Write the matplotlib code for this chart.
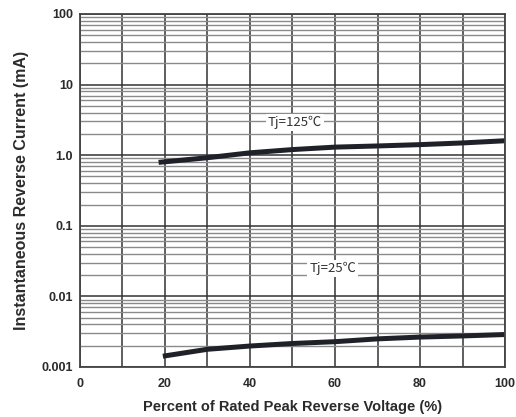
import numpy as np
import matplotlib
matplotlib.use("Agg")
import matplotlib.pyplot as plt
import matplotlib.ticker as ticker

plt.rcParams['font.family'] = ['Liberation Sans', 'DejaVu Sans']

# percent of rated peak reverse voltage
volt_125 = [18.5, 30, 40, 50, 60, 70, 80, 90, 100]
cur_125 = [0.79, 0.92, 1.08, 1.20, 1.30, 1.35, 1.41, 1.49, 1.60]

volt_25 = [19.5, 30, 40, 50, 60, 70, 80, 90, 100]
cur_25 = [0.00142, 0.00178, 0.00198, 0.00215, 0.00228, 0.00250, 0.00265, 0.00275, 0.00288]

x_ticks = [0, 20, 40, 60, 80, 100]
y_ticks = [0.001, 0.01, 0.1, 1.0, 10, 100]
y_labels = ["0.001", "0.01", "0.1", "1.0", "10", "100"]

txt_col = "#2b2b2b"

fig = plt.figure(figsize=(5.16, 4.17), dpi=100)
ax1 = fig.add_axes([0.155, 0.12, 0.8237, 0.8465])

ax1.set_yscale("log")
ax1.set_xlim(0, 100)
ax1.set_ylim(0.001, 100)

#grid lines
ax1.xaxis.set_major_locator(ticker.FixedLocator(x_ticks))
ax1.xaxis.set_minor_locator(ticker.MultipleLocator(10))
ax1.yaxis.set_major_locator(ticker.FixedLocator(y_ticks))
ax1.yaxis.set_minor_locator(ticker.LogLocator(base=10, subs=np.arange(2, 10)))
ax1.yaxis.set_minor_formatter(ticker.NullFormatter())
ax1.grid(which="major", axis="both", color="#333333", lw=1.1)
ax1.grid(which="minor", axis="x", color="#333333", lw=1.1)
ax1.grid(which="minor", axis="y", color="#8a8a8a", lw=1.0)
ax1.set_axisbelow(True)
for s in ax1.spines.values():
    s.set_color("#444444")
    s.set_linewidth(1.3)

ax1.set_yticks(y_ticks)
ax1.set_yticklabels(y_labels)
ax1.tick_params(which="both", length=0)
ax1.tick_params(axis="y", pad=5, labelsize=9, labelcolor=txt_col)
ax1.tick_params(axis="x", pad=8, labelsize=9, labelcolor=txt_col)
for lab in ax1.get_xticklabels() + ax1.get_yticklabels():
    lab.set_fontweight("bold")

ax1.plot(volt_125, cur_125, color="#1e2228", lw=3.6, solid_capstyle="butt")
ax1.plot(volt_25, cur_25, color="#1e2228", lw=3.6, solid_capstyle="butt")

ax1.text(50.6, 2.9, "Tj=125\u2103", ha="center", va="center", fontsize=9.5,
         color="#333333", bbox=dict(facecolor="white", edgecolor="none", pad=1.5),
         family=["Noto Sans CJK SC", "DejaVu Sans"])
ax1.text(59.5, 0.025, "Tj=25\u2103", ha="center", va="center", fontsize=9.5,
         color="#333333", bbox=dict(facecolor="white", edgecolor="none", pad=1.5),
         family=["Noto Sans CJK SC", "DejaVu Sans"])

ax1.set_xlabel("Percent of Rated Peak Reverse Voltage (%)", fontsize=10.5,
               fontweight="bold", color=txt_col, labelpad=7)
ax1.set_ylabel("Instantaneous Reverse Current (mA)", fontsize=11.5,
               fontweight="bold", color=txt_col, labelpad=9)

fig.savefig("out.png", dpi=100)
